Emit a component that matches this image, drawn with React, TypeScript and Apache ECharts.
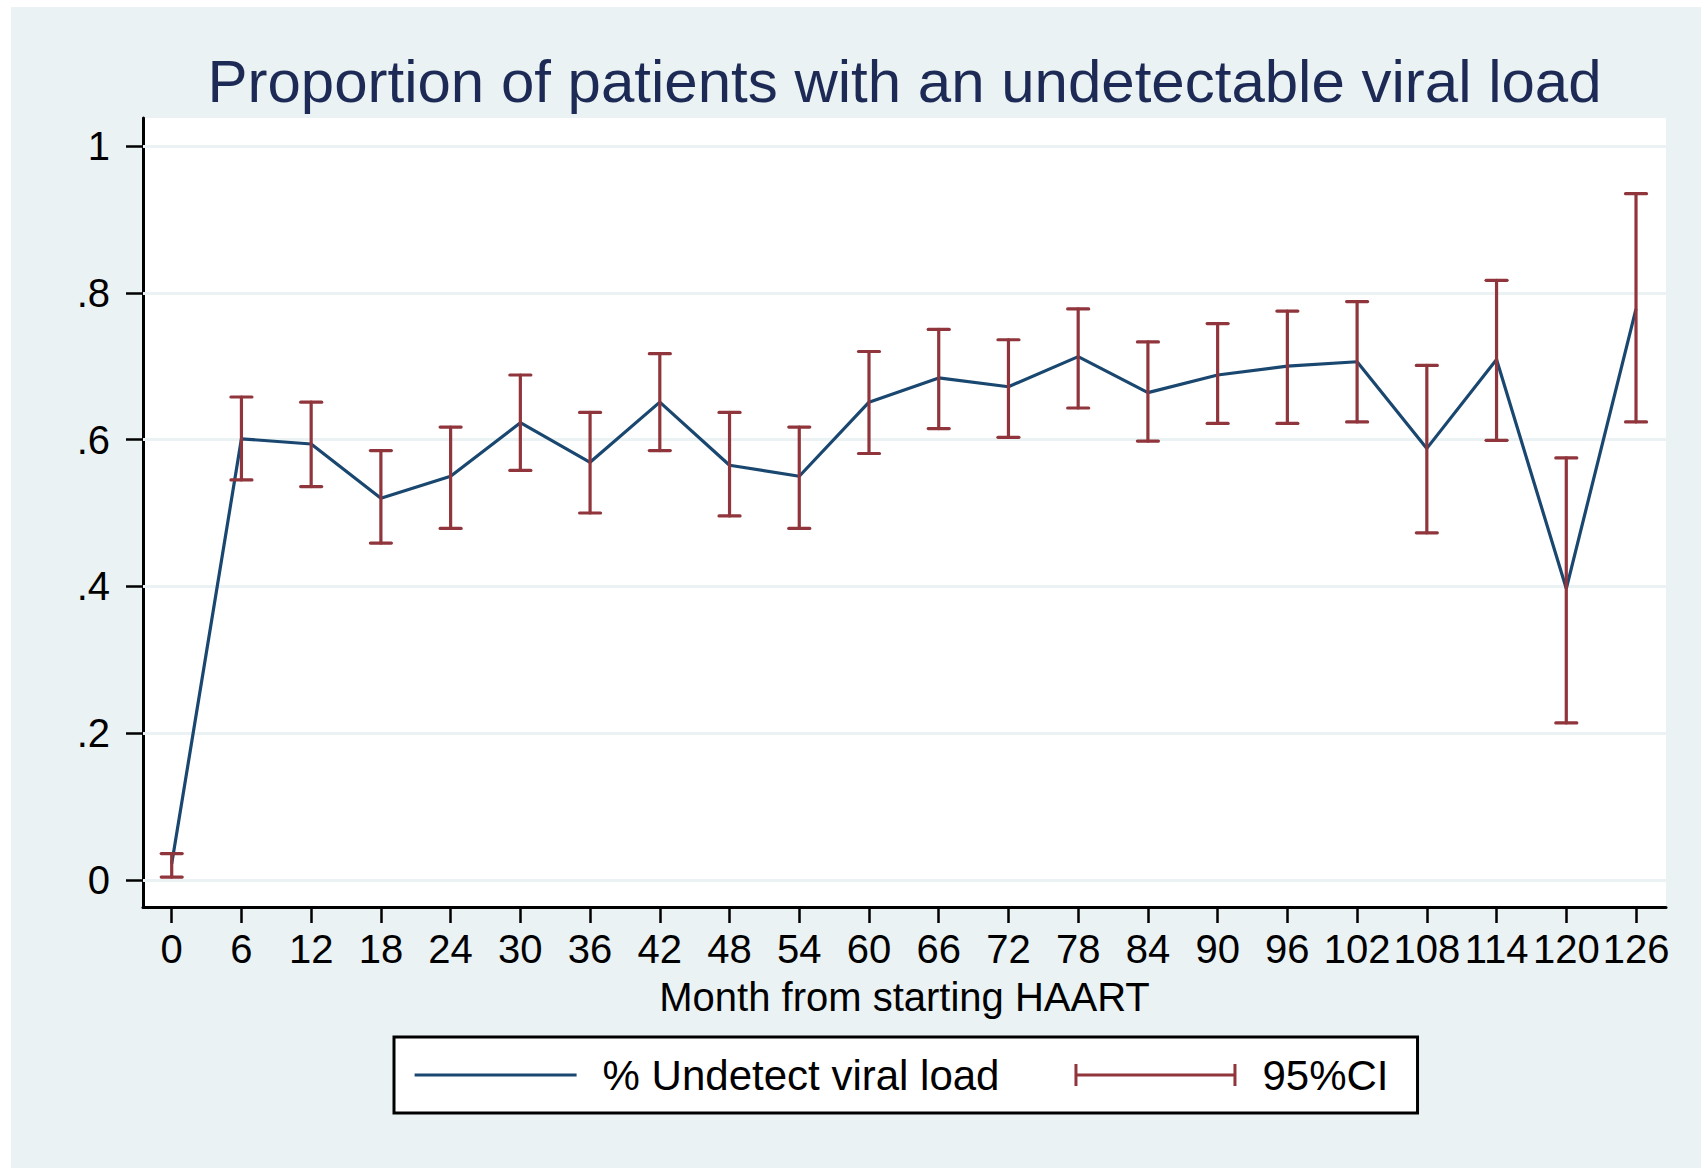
import { useEffect, useRef } from 'react';
import * as echarts from 'echarts';

// ---- data ----
const months = [0, 6, 12, 18, 24, 30, 36, 42, 48, 54, 60, 66, 72, 78, 84, 90, 96, 102, 108, 114, 120, 126];
const proportion = [0.022, 0.601, 0.594, 0.520, 0.550, 0.623, 0.569, 0.651, 0.565, 0.550, 0.651, 0.684, 0.672, 0.713, 0.664, 0.688, 0.700, 0.706, 0.588, 0.709, 0.397, 0.778];
const ciLow = [0.004, 0.545, 0.536, 0.459, 0.479, 0.558, 0.500, 0.585, 0.496, 0.479, 0.581, 0.615, 0.603, 0.643, 0.598, 0.622, 0.622, 0.624, 0.473, 0.599, 0.214, 0.624];
const ciHigh = [0.036, 0.658, 0.651, 0.585, 0.617, 0.688, 0.637, 0.717, 0.637, 0.617, 0.720, 0.750, 0.736, 0.778, 0.733, 0.758, 0.775, 0.788, 0.701, 0.817, 0.575, 0.935];
const yTicks = [0, 0.2, 0.4, 0.6, 0.8, 1];
const xTicks = months;

const titleText = 'Proportion of patients with an undetectable viral load';
const xTitle = 'Month from starting HAART';
const lineName = '% Undetect viral load';
const ciName = '95%CI';

// ---- styles ----
const FONT = '"Liberation Sans", Arial, Helvetica, sans-serif';
const NAVY = '#1a476f';
const MAROON = '#90353b';
const BG = '#eaf2f3';
const TITLE_COLOR = '#1c2a55';

const ciIcon = 'path://M0,0h3v22h-3zM0,9.5h162v3h-162zM159,0h3v22h-3z';

function yLabel(v: number): string {
  if (Math.abs(v) < 1e-9) return '0';
  if (Math.abs(v - 1) < 1e-9) return '1';
  return String(+v.toFixed(1)).replace(/^0\./, '.');
}

export default function App() {
  const ref = useRef<HTMLDivElement>(null);

  useEffect(() => {
    if (!ref.current) return;
    const chart = echarts.init(ref.current, null, { renderer: 'svg' });
    const option: any = {
      animation: false,
      backgroundColor: BG,
      textStyle: { fontFamily: FONT },
      graphic: [
        {
          type: 'text',
          x: 893.5,
          y: 74.5,
          style: {
            text: titleText,
            fill: TITLE_COLOR,
            font: `60px ${FONT}`,
            textAlign: 'center',
            textVerticalAlign: 'middle',
            verticalAlign: 'middle',
          },
        },
      ],
      grid: {
        left: 132,
        right: 35,
        top: 111,
        bottom: 261,
        show: true,
        backgroundColor: '#ffffff',
        borderWidth: 0,
        containLabel: false,
      },
      xAxis: {
        type: 'value',
        min: -2.47,
        max: 128.58,
        name: xTitle,
        nameLocation: 'middle',
        nameGap: 72,
        nameMoveOverlap: false,
        nameTextStyle: { fontSize: 40, lineHeight: 36, color: '#000', fontFamily: FONT },
        axisLine: { show: true, onZero: false, lineStyle: { color: '#000', width: 3 } },
        axisTick: { show: true, length: 16, lineStyle: { color: '#000', width: 2.5 }, customValues: xTicks },
        axisLabel: {
          show: true,
          customValues: xTicks,
          margin: 25,
          fontSize: 40,
          lineHeight: 34,
          color: '#000',
          fontFamily: FONT,
          hideOverlap: false,
        },
        splitLine: { show: false },
      },
      yAxis: {
        type: 'value',
        min: -0.0368,
        max: 1.0381,
        axisLine: { show: true, onZero: false, lineStyle: { color: '#000', width: 3 } },
        axisTick: { show: true, length: 17, lineStyle: { color: '#000', width: 2.5 }, customValues: yTicks },
        axisLabel: {
          show: true,
          customValues: yTicks,
          margin: 33,
          fontSize: 40,
          color: '#000',
          fontFamily: FONT,
          formatter: (v: number) => yLabel(v),
        },
        splitLine: { show: false },
      },
      legend: {
        left: 383,
        top: 1030,
        orient: 'horizontal',
        padding: [17, 29, 17, 19],
        borderColor: '#000',
        borderWidth: 3,
        borderRadius: 0,
        backgroundColor: '#ffffff',
        itemWidth: 162,
        itemHeight: 22,
        itemGap: 75,
        selectedMode: false,
        textStyle: { fontSize: 42, color: '#000', fontFamily: FONT, padding: [0, 0, 0, 21] },
        data: [
          { name: lineName, lineStyle: { width: 3.2, color: NAVY } },
          { name: ciName, icon: ciIcon },
        ],
      },
      series: [
        {
          name: 'gridlines',
          type: 'line',
          data: [],
          silent: true,
          z: 1,
          markLine: {
            z: 1,
            silent: true,
            symbol: 'none',
            label: { show: false },
            emphasis: { disabled: true },
            lineStyle: { color: BG, width: 3, type: 'solid' },
            data: yTicks.map((v) => ({ yAxis: v })),
          },
        },
        {
          name: lineName,
          type: 'line',
          z: 2,
          data: months.map((m, i) => [m, proportion[i]]),
          symbol: 'circle',
          symbolSize: 0,
          showSymbol: false,
          lineStyle: { color: NAVY, width: 3.2 },
          itemStyle: { color: 'transparent', borderColor: 'transparent', borderWidth: 0 },
          emphasis: { disabled: true },
        },
        {
          name: ciName,
          type: 'custom',
          z: 3,
          itemStyle: { color: MAROON },
          data: months.map((m, i) => [m, ciLow[i], ciHigh[i]]),
          encode: { x: 0, y: [1, 2] },
          renderItem: (_params: any, api: any) => {
            const x = api.value(0);
            const lo = api.coord([x, api.value(1)]);
            const hi = api.coord([x, api.value(2)]);
            const hw = 10.5;
            const st = { stroke: MAROON, lineWidth: 3.2, lineCap: 'round' };
            return {
              type: 'group',
              children: [
                { type: 'line', shape: { x1: hi[0], y1: hi[1], x2: lo[0], y2: lo[1] }, style: st },
                { type: 'line', shape: { x1: hi[0] - hw, y1: hi[1], x2: hi[0] + hw, y2: hi[1] }, style: st },
                { type: 'line', shape: { x1: lo[0] - hw, y1: lo[1], x2: lo[0] + hw, y2: lo[1] }, style: st },
              ],
            };
          },
        },
      ],
    };
    chart.setOption(option);
    return () => chart.dispose();
  }, []);

  return (
    <div style={{ position: 'absolute', left: 0, top: 0, width: 1701, height: 1168, background: '#ffffff' }}>
      <div ref={ref} style={{ position: 'absolute', left: 11, top: 7, width: 1690, height: 1161 }} />
    </div>
  );
}
